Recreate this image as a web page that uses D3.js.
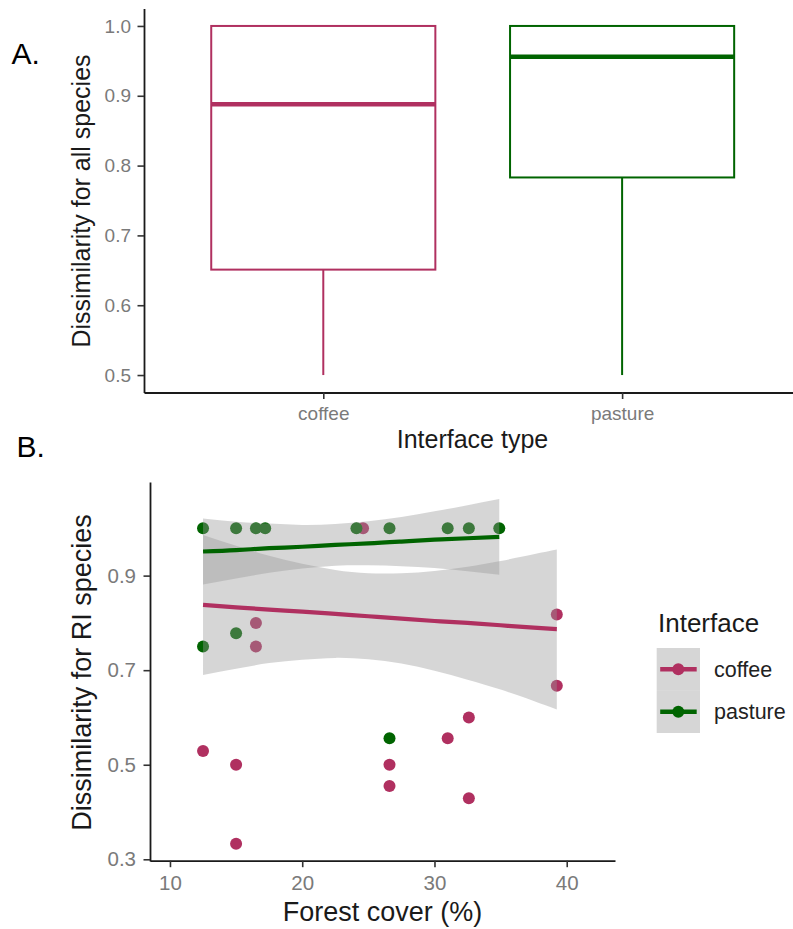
<!DOCTYPE html>
<html>
<head>
<meta charset="utf-8">
<script src="https://cdn.jsdelivr.net/npm/d3@7"></script>
<style>
  body { margin: 0; background: #fff; }
  text { font-family: "Liberation Sans", Arial, Helvetica, sans-serif; }
</style>
</head>
<body>
<svg id="fig" width="793" height="929"></svg>
<script>
// ---------- Panel A: dissimilarity for all species, by interface type ----------
const interfaceTypes = ["coffee", "pasture"];
const whiskerLow  = [0.500, 0.500];
const hingeLow    = [0.651, 0.783];
const medians     = [0.888, 0.956];
const hingeHigh   = [1.000, 1.000];
const whiskerHigh = [1.000, 1.000];
const boxYTicks   = [0.5, 0.6, 0.7, 0.8, 0.9, 1.0];

// ---------- Panel B: dissimilarity for RI species vs forest cover ----------
const coffeeForest  = [12.5, 15.0, 15.0, 16.5, 16.5, 24.6, 26.6, 26.6, 31.0, 32.6, 32.6, 39.25, 39.25];
const coffeeDissim  = [0.529, 0.500, 0.333, 0.800, 0.750, 1.000, 0.500, 0.455, 0.556, 0.600, 0.429, 0.667, 0.818];
const pastureForest = [12.5, 12.5, 15.0, 15.0, 16.5, 17.2, 24.1, 26.6, 26.6, 31.0, 32.6, 34.9];
const pastureDissim = [1.000, 0.750, 1.000, 0.778, 1.000, 1.000, 1.000, 1.000, 0.556, 1.000, 1.000, 1.000];

// linear fits with confidence bands
const coffeeBandX  = [12.5, 15, 17.5, 20, 22.5, 25, 27.5, 30, 32.5, 35, 37.5, 39.25];
const coffeeFit    = [0.838, 0.833, 0.828, 0.824, 0.819, 0.814, 0.809, 0.804, 0.800, 0.795, 0.790, 0.787];
const coffeeLower  = [0.690, 0.703, 0.715, 0.722, 0.726, 0.723, 0.714, 0.699, 0.680, 0.659, 0.635, 0.617];
const coffeeUpper  = [0.986, 0.963, 0.942, 0.925, 0.912, 0.905, 0.905, 0.910, 0.919, 0.931, 0.945, 0.955];
const pastureBandX = [12.5, 15, 17.5, 20, 22.5, 25, 27.5, 30, 32.5, 34.9];
const pastureFit   = [0.951, 0.954, 0.958, 0.961, 0.965, 0.968, 0.972, 0.976, 0.979, 0.982];
const pastureLower = [0.881, 0.894, 0.906, 0.915, 0.921, 0.922, 0.920, 0.916, 0.909, 0.902];
const pastureUpper = [1.021, 1.014, 1.010, 1.007, 1.009, 1.015, 1.024, 1.036, 1.049, 1.062];

const scatterXTicks = [10, 20, 30, 40];
const scatterYTicks = [0.3, 0.5, 0.7, 0.9];
const legendLabels  = ["coffee", "pasture"];

const colors = { coffee: "#B03060", pasture: "#006400" };
const axisInk = "#1a1a1a";
const tickInk = "#7a7a7a";
const bandFill = "#999999";

const svg = d3.select("#fig");
svg.append("rect").attr("width", 793).attr("height", 929).attr("fill", "#fff");

function styleAxis(g, fontSize) {
  g.select(".domain").attr("stroke", axisInk).attr("stroke-width", 1.8);
  g.selectAll(".tick line").attr("stroke", "#333").attr("stroke-width", 1.6);
  g.selectAll(".tick text").attr("fill", tickInk).attr("font-size", fontSize)
    .attr("font-family", "\"Liberation Sans\", Arial, Helvetica, sans-serif");
}

// ================= Panel A =================
const xA = d3.scalePoint().domain(interfaceTypes).range([144, 801.4]).padding(0.6);
const yA = d3.scaleLinear().domain([0.475, 1.025]).range([392.5, 8.5]);
const boxW = xA.step() * 0.75;

const gA = svg.append("g");
const boxes = interfaceTypes.map((t, i) => ({
  t, lo: whiskerLow[i], q1: hingeLow[i], med: medians[i], q3: hingeHigh[i], hi: whiskerHigh[i]
}));

boxes.forEach(b => {
  const cx = xA(b.t), c = colors[b.t];
  const g = gA.append("g");
  // whiskers
  g.append("line").attr("x1", cx).attr("x2", cx).attr("y1", yA(b.q1)).attr("y2", yA(b.lo))
    .attr("stroke", c).attr("stroke-width", 2);
  g.append("line").attr("x1", cx).attr("x2", cx).attr("y1", yA(b.q3)).attr("y2", yA(b.hi))
    .attr("stroke", c).attr("stroke-width", 2);
  // box
  g.append("rect").attr("x", cx - boxW / 2).attr("width", boxW)
    .attr("y", yA(b.q3)).attr("height", yA(b.q1) - yA(b.q3))
    .attr("fill", "#fff").attr("stroke", c).attr("stroke-width", 2);
  // median
  g.append("line").attr("x1", cx - boxW / 2).attr("x2", cx + boxW / 2)
    .attr("y1", yA(b.med)).attr("y2", yA(b.med))
    .attr("stroke", c).attr("stroke-width", 4.5);
});

const axAy = gA.append("g").attr("transform", "translate(144,0)")
  .call(d3.axisLeft(yA).tickValues(boxYTicks).tickFormat(d3.format(".1f"))
    .tickSize(6.5).tickPadding(6.5).tickSizeOuter(0));
styleAxis(axAy, 19);
const axAx = gA.append("g").attr("transform", "translate(0,392.5)")
  .call(d3.axisBottom(xA).tickSize(6.5).tickPadding(7.5).tickSizeOuter(0));
styleAxis(axAx, 19);

gA.append("text").attr("transform", "translate(90,201) rotate(-90)")
  .attr("text-anchor", "middle").attr("font-size", 25).attr("fill", axisInk)
  .text("Dissimilarity for all species");
gA.append("text").attr("x", 472.5).attr("y", 448.3)
  .attr("text-anchor", "middle").attr("font-size", 25).attr("fill", axisInk)
  .text("Interface type");
svg.append("text").attr("x", 11.5).attr("y", 64.3).attr("font-size", 30).attr("fill", "#000").text("A.");

// ================= Panel B =================
const xB = d3.scaleLinear().domain([8.49, 43.65]).range([150, 615]);
const yB = d3.scaleLinear().domain([0.2964, 1.098]).range([861, 482]);
const gB = svg.append("g");

const pts = [
  ...coffeeForest.map((x, i) => ({ x, y: coffeeDissim[i], g: "coffee" })),
  ...pastureForest.map((x, i) => ({ x, y: pastureDissim[i], g: "pasture" }))
];
gB.append("g").selectAll("circle").data(pts).join("circle")
  .attr("cx", d => xB(d.x)).attr("cy", d => yB(d.y)).attr("r", 6)
  .attr("fill", d => colors[d.g]);

const fits = [
  { g: "coffee", xs: coffeeBandX, fit: coffeeFit, lo: coffeeLower, hi: coffeeUpper },
  { g: "pasture", xs: pastureBandX, fit: pastureFit, lo: pastureLower, hi: pastureUpper }
];
const area = d3.area().curve(d3.curveNatural)
  .x(d => xB(d.x)).y0(d => yB(d.lo)).y1(d => yB(d.hi));
const line = d3.line().curve(d3.curveNatural).x(d => xB(d.x)).y(d => yB(d.f));
fits.forEach(s => {
  const rows = s.xs.map((x, i) => ({ x, f: s.fit[i], lo: s.lo[i], hi: s.hi[i] }));
  gB.append("path").attr("d", area(rows)).attr("fill", bandFill).attr("fill-opacity", 0.4);
  gB.append("path").attr("d", line(rows)).attr("fill", "none")
    .attr("stroke", colors[s.g]).attr("stroke-width", 4.2);
});

const axBy = gB.append("g").attr("transform", "translate(150,0)")
  .call(d3.axisLeft(yB).tickValues(scatterYTicks).tickFormat(d3.format(".1f"))
    .tickSize(6.5).tickPadding(7.5).tickSizeOuter(0));
styleAxis(axBy, 20.5);
const axBx = gB.append("g").attr("transform", "translate(0,860.7)")
  .call(d3.axisBottom(xB).tickValues(scatterXTicks).tickFormat(d3.format("d"))
    .tickSize(6.5).tickPadding(8).tickSizeOuter(0));
styleAxis(axBx, 20.5);

gB.append("text").attr("transform", "translate(90.5,672.5) rotate(-90)")
  .attr("text-anchor", "middle").attr("font-size", 27).attr("fill", axisInk)
  .text("Dissimilarity for RI species");
gB.append("text").attr("x", 382.5).attr("y", 921)
  .attr("text-anchor", "middle").attr("font-size", 27).attr("fill", axisInk)
  .text("Forest cover (%)");
svg.append("text").attr("x", 16.5).attr("y", 456.7).attr("font-size", 30).attr("fill", "#000").text("B.");

// legend
const lg = svg.append("g").attr("transform", "translate(656.7,0)");
lg.append("text").attr("x", 1.3).attr("y", 632).attr("font-size", 26).attr("fill", axisInk).text("Interface");
const keyH = 42.5, keyTop = 648;
legendLabels.forEach((lab, i) => {
  const cy = keyTop + keyH * i + keyH / 2;
  lg.append("rect").attr("x", 0).attr("y", keyTop + keyH * i).attr("width", 43.3).attr("height", keyH)
    .attr("fill", bandFill).attr("fill-opacity", 0.4);
  lg.append("line").attr("x1", 3.5).attr("x2", 40).attr("y1", cy).attr("y2", cy)
    .attr("stroke", colors[lab]).attr("stroke-width", 4.5);
  lg.append("circle").attr("cx", 21.6).attr("cy", cy).attr("r", 6).attr("fill", colors[lab]);
  lg.append("text").attr("x", 57.3).attr("y", cy + 7.5).attr("font-size", 21.5).attr("fill", "#222").text(lab);
});
</script>
</body>
</html>
